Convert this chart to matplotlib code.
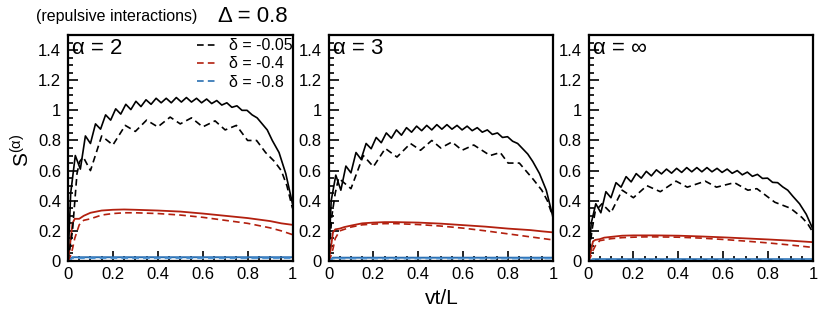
import numpy as np
import matplotlib
matplotlib.use("Agg")
import matplotlib.pyplot as plt
from matplotlib.ticker import MultipleLocator, FuncFormatter
from matplotlib.lines import Line2D

plt.rcParams['font.family'] = ['Liberation Sans', 'DejaVu Sans']
plt.rcParams['mathtext.fontset'] = 'custom'
plt.rcParams['mathtext.rm'] = 'Liberation Sans'
plt.rcParams['mathtext.it'] = 'Liberation Sans'

# ---------------- data ----------------
panel_labels = ["α = 2", "α = 3", "α = ∞"]
legend_labels = ["δ = -0.05", "δ = -0.4", "δ = -0.8"]

# time grid for fast-oscillating solid curves (delta = -0.05)
t_wiggle = [0, 0.012, 0.0325, 0.055, 0.0775, 0.1, 0.1225, 0.145, 0.1675, 0.19,
            0.2125, 0.235, 0.2575, 0.28, 0.3025, 0.325, 0.3475, 0.37, 0.3925, 0.415,
            0.4375, 0.46, 0.4825, 0.505, 0.5275, 0.55, 0.5725, 0.595, 0.6175, 0.64,
            0.6625, 0.685, 0.7075, 0.73, 0.7525, 0.775, 0.7975, 0.82, 0.8425, 0.865,
            0.8875, 0.91, 0.94, 0.97, 1.0]

solid_black_a2 = [0, 0.45, 0.70, 0.61, 0.83, 0.78, 0.91, 0.875, 0.97, 0.935,
                  1.01, 0.975, 1.04, 1.005, 1.06, 1.025, 1.07, 1.04, 1.08, 1.05,
                  1.08, 1.05, 1.085, 1.055, 1.085, 1.055, 1.08, 1.05, 1.075, 1.045,
                  1.065, 1.035, 1.05, 1.02, 1.03, 1.0, 1.0, 0.97, 0.95, 0.91,
                  0.87, 0.80, 0.72, 0.58, 0.38]
solid_black_a3 = [0, 0.40, 0.57, 0.47, 0.63, 0.585, 0.72, 0.675, 0.78, 0.745,
                  0.82, 0.785, 0.85, 0.815, 0.87, 0.835, 0.885, 0.855, 0.895, 0.865,
                  0.90, 0.87, 0.905, 0.875, 0.905, 0.875, 0.90, 0.87, 0.895, 0.865,
                  0.885, 0.855, 0.87, 0.84, 0.85, 0.82, 0.825, 0.795, 0.78, 0.745,
                  0.71, 0.66, 0.58, 0.47, 0.29]
solid_black_ainf = [0, 0.25, 0.38, 0.32, 0.46, 0.42, 0.52, 0.49, 0.56, 0.525,
                    0.58, 0.55, 0.595, 0.565, 0.605, 0.578, 0.61, 0.583, 0.615, 0.588,
                    0.62, 0.592, 0.62, 0.592, 0.62, 0.592, 0.615, 0.588, 0.61, 0.582,
                    0.60, 0.572, 0.59, 0.562, 0.575, 0.548, 0.55, 0.522, 0.52, 0.492,
                    0.47, 0.43, 0.38, 0.31, 0.21]

# dashed black curves (slower oscillations)
t_dash_a2 = [0, 0.02, 0.04, 0.052, 0.068, 0.1, 0.15, 0.2, 0.255, 0.3, 0.35, 0.4, 0.455,
             0.5, 0.55, 0.6, 0.655, 0.7, 0.75, 0.8, 0.84, 0.88, 0.92, 0.95, 0.975, 1.0]
dash_black_a2 = [0, 0.20, 0.58, 0.66, 0.69, 0.60, 0.83, 0.77, 0.90, 0.86, 0.935, 0.89, 0.955,
                 0.91, 0.95, 0.89, 0.93, 0.87, 0.90, 0.80, 0.80, 0.72, 0.66, 0.60, 0.50, 0.35]
t_dash_a3 = [0, 0.015, 0.03, 0.045, 0.1, 0.155, 0.2, 0.253, 0.305, 0.365, 0.41, 0.46,
             0.5, 0.55, 0.595, 0.647, 0.72, 0.765, 0.8, 0.85, 0.913, 0.95, 0.975, 1.0]
dash_black_a3 = [0, 0.30, 0.45, 0.55, 0.48, 0.70, 0.626, 0.747, 0.69, 0.78, 0.735, 0.80,
                 0.75, 0.79, 0.735, 0.77, 0.70, 0.72, 0.65, 0.65, 0.54, 0.47, 0.40, 0.29]
t_dash_ainf = [0, 0.015, 0.03, 0.06, 0.1, 0.15, 0.2, 0.26, 0.32, 0.39, 0.44, 0.52, 0.57,
               0.65, 0.71, 0.75, 0.83, 0.9, 0.95, 0.975, 1.0]
dash_black_ainf = [0, 0.20, 0.33, 0.38, 0.32, 0.47, 0.42, 0.50, 0.46, 0.53, 0.49, 0.53, 0.49,
                   0.52, 0.47, 0.48, 0.39, 0.35, 0.29, 0.25, 0.19]

# red curves (delta = -0.4)
t_red = [0, 0.01, 0.02, 0.03, 0.05, 0.07, 0.1, 0.15, 0.2, 0.25, 0.3, 0.4, 0.5, 0.6, 0.7,
         0.8, 0.9, 0.95, 1.0]
solid_red_a2 = [0, 0.12, 0.25, 0.28, 0.28, 0.30, 0.32, 0.335, 0.34, 0.342, 0.34, 0.335,
                0.328, 0.315, 0.30, 0.285, 0.265, 0.25, 0.24]
dash_red_a2 = [0, 0.03, 0.08, 0.15, 0.24, 0.27, 0.28, 0.305, 0.315, 0.32, 0.32, 0.315,
               0.305, 0.29, 0.27, 0.25, 0.22, 0.20, 0.175]
solid_red_a3 = [0, 0.08, 0.19, 0.21, 0.215, 0.225, 0.235, 0.25, 0.255, 0.258, 0.258, 0.255,
                0.248, 0.238, 0.228, 0.215, 0.205, 0.197, 0.19]
dash_red_a3 = [0, 0.03, 0.08, 0.15, 0.20, 0.21, 0.225, 0.24, 0.245, 0.248, 0.248, 0.242,
               0.232, 0.218, 0.20, 0.18, 0.16, 0.15, 0.14]
solid_red_ainf = [0, 0.06, 0.13, 0.14, 0.145, 0.155, 0.16, 0.168, 0.17, 0.17, 0.17, 0.168,
                  0.163, 0.157, 0.15, 0.143, 0.135, 0.13, 0.125]
dash_red_ainf = [0, 0.03, 0.07, 0.10, 0.135, 0.14, 0.148, 0.155, 0.158, 0.16, 0.16, 0.158,
                 0.152, 0.143, 0.132, 0.12, 0.106, 0.098, 0.09]

# blue curves (delta = -0.8)
t_blue = [0, 0.02, 1.0]
solid_blue = [[0, 0.025, 0.025], [0, 0.022, 0.022], [0, 0.012, 0.012]]
dash_blue = [[0, 0.018, 0.018], [0, 0.016, 0.016], [0, 0.010, 0.010]]

solid_black = [(t_wiggle, solid_black_a2), (t_wiggle, solid_black_a3), (t_wiggle, solid_black_ainf)]
dash_black = [(t_dash_a2, dash_black_a2), (t_dash_a3, dash_black_a3), (t_dash_ainf, dash_black_ainf)]
solid_red = [solid_red_a2, solid_red_a3, solid_red_ainf]
dash_red = [dash_red_a2, dash_red_a3, dash_red_ainf]

BLACK = '#000000'
RED = '#b3200f'
BLUE = '#2a6fb2'
BLUE_L = '#4f94d4'
DASH = (0, (4, 2.5))

W, H = 830, 329
fig = plt.figure(figsize=(W / 100, H / 100), dpi=100)

lefts = [68, 328.5, 588.5]
ax_w = 224.5
top_px, bot_px = 35, 261

axes = []
for i in range(3):
    ax = fig.add_axes([lefts[i] / W, (H - bot_px) / H, ax_w / W, (bot_px - top_px) / H])
    axes.append(ax)
    ax.plot(t_blue, solid_blue[i], color=BLUE, lw=1.4)
    ax.plot(t_blue, dash_blue[i], color=BLUE_L, lw=1.2, ls=DASH)
    ax.plot(t_red, solid_red[i], color=RED, lw=1.3)
    ax.plot(t_red, dash_red[i], color=RED, lw=1.2, ls=DASH)
    tb, yb = solid_black[i]
    ax.plot(tb, yb, color=BLACK, lw=1.2, solid_joinstyle='round')
    td, yd = dash_black[i]
    ax.plot(td, yd, color=BLACK, lw=1.2, ls=DASH)

    ax.set_xlim(0, 1)
    ax.set_ylim(0, 1.5)
    ax.xaxis.set_major_locator(MultipleLocator(0.2))
    ax.xaxis.set_minor_locator(MultipleLocator(0.05))
    ax.yaxis.set_major_locator(MultipleLocator(0.2))
    ax.yaxis.set_minor_locator(MultipleLocator(0.05))
    fmt = FuncFormatter(lambda v, p: ('%g' % round(v, 3)))
    ax.xaxis.set_major_formatter(fmt)
    ax.yaxis.set_major_formatter(fmt)
    ax.tick_params(which='both', direction='in', top=False, right=False,
                   labelsize=12, width=1.2)
    ax.tick_params(which='major', length=7)
    ax.tick_params(which='minor', length=3.5)
    ax.tick_params(axis='y', pad=5)
    ax.tick_params(axis='x', pad=4)
    for s in ax.spines.values():
        s.set_linewidth(1.6)
    ax.text(0.018, 0.985, panel_labels[i], transform=ax.transAxes, fontsize=16,
            ha='left', va='top')

# legend in first panel
handles = [Line2D([], [], color=BLACK, lw=1.2, ls=DASH),
           Line2D([], [], color=RED, lw=1.2, ls=DASH),
           Line2D([], [], color=BLUE, lw=1.2, ls=DASH)]
axes[0].legend(handles, legend_labels, loc='upper left', bbox_to_anchor=(0.56, 1.0),
               frameon=False, fontsize=11.5, handlelength=1.3, handletextpad=0.7,
               labelspacing=0.2, borderaxespad=0.0, borderpad=0.2)

fig.text(117 / W, 1 - 17 / H, "(repulsive interactions)", fontsize=11.5, ha='center', va='center')
fig.text(253 / W, 1 - 16 / H, "Δ = 0.8", fontsize=16, ha='center', va='center')
fig.text(442 / W, 1 - 298 / H, "vt/L", fontsize=15, ha='center', va='center')
fig.text(22 / W, 1 - 150 / H, r'$\mathregular{S^{(α)}}$', fontsize=15, ha='center',
         va='center', rotation=90)

fig.savefig('out.png', dpi=100)
